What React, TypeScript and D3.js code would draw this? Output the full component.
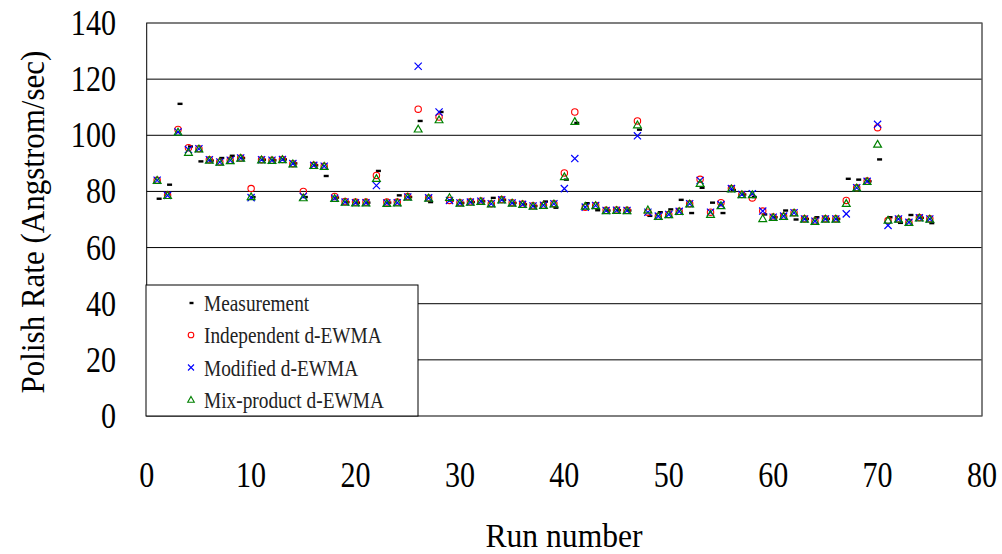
import * as d3 from 'd3'

// run numbers 1..75
const runs = d3.range(1, 76)

const measurement = [
  77.4, 82.4, 111.2, 96.0, 90.7, 91.0, 91.9, 92.7, 91.9, 78.0,
  91.3, 91.1, 91.4, 90.0, 78.0, 89.3, 85.5, 77.8, 76.2, 76.0,
  76.0, 87.3, 76.0, 78.6, 78.0, 105.1, 76.2, 108.3, 76.8, 75.9,
  76.2, 76.5, 77.7, 77.0, 75.9, 75.4, 74.8, 76.4, 74.2, 84.2,
  104.4, 75.8, 73.3, 73.2, 73.3, 73.2, 102.0, 71.3, 72.6, 73.6,
  77.0, 72.3, 81.3, 76.0, 72.3, 80.5, 78.9, 78.0, 71.8, 70.8,
  73.2, 70.0, 70.2, 70.8, 70.2, 70.2, 84.5, 84.2, 83.6, 91.4,
  70.8, 68.8, 71.6, 70.6, 68.7,
]

const independent = [
  84.0, 78.6, 102.1, 95.6, 95.2, 91.3, 90.5, 91.1, 91.9, 81.0,
  91.3, 91.1, 91.4, 89.9, 80.0, 89.3, 89.0, 78.2, 76.4, 76.2,
  76.2, 85.7, 76.2, 76.2, 78.2, 109.3, 77.7, 106.5, 76.8, 76.0,
  76.3, 76.6, 75.6, 77.1, 76.0, 75.5, 74.9, 75.1, 75.6, 86.6,
  108.3, 74.4, 75.0, 73.3, 73.4, 73.3, 105.1, 72.6, 71.2, 71.8,
  72.9, 75.6, 84.3, 72.6, 76.0, 81.0, 78.9, 77.7, 73.0, 70.9,
  71.2, 72.4, 70.3, 69.5, 70.3, 70.3, 76.8, 81.3, 83.7, 102.7,
  69.6, 70.2, 69.0, 70.7, 70.3,
]

const modified = [
  84.0, 78.6, 101.2, 94.9, 95.2, 91.3, 90.5, 91.1, 91.9, 77.8,
  91.3, 91.1, 91.4, 89.9, 78.2, 89.3, 89.0, 77.6, 76.2, 76.0,
  76.0, 82.1, 75.9, 76.0, 78.0, 124.6, 77.7, 108.3, 76.8, 75.9,
  76.2, 76.5, 75.6, 77.0, 75.9, 75.4, 74.8, 75.1, 75.6, 81.0,
  91.7, 74.4, 75.0, 73.2, 73.3, 73.2, 99.8, 72.6, 71.2, 71.8,
  72.9, 75.6, 83.9, 72.6, 75.3, 81.0, 78.9, 79.2, 73.0, 70.8,
  71.2, 72.4, 70.2, 69.4, 70.2, 70.2, 72.0, 81.3, 83.6, 103.9,
  67.9, 70.2, 69.0, 70.6, 70.2,
]

const mixProduct = [
  83.8, 78.4, 101.0, 93.8, 95.0, 91.0, 90.3, 90.8, 91.7, 78.0,
  91.1, 90.9, 91.2, 89.7, 77.6, 89.1, 88.8, 77.4, 76.0, 75.8,
  75.8, 84.5, 75.6, 75.8, 77.8, 102.1, 77.5, 105.4, 77.7, 75.7,
  76.0, 76.3, 75.4, 76.8, 75.7, 75.2, 74.6, 74.9, 75.4, 85.1,
  104.8, 74.6, 74.8, 73.0, 73.1, 73.0, 103.6, 73.3, 71.0, 71.6,
  72.7, 75.4, 82.7, 71.7, 74.8, 80.8, 78.7, 78.7, 70.2, 70.6,
  71.0, 72.2, 70.0, 69.2, 70.0, 70.0, 75.6, 81.1, 83.4, 96.7,
  69.6, 70.0, 68.8, 70.4, 70.0,
]

const yTicks = [0, 20, 40, 60, 80, 100, 120, 140]
const xTicks = [0, 10, 20, 30, 40, 50, 60, 70, 80]
const legendLabels = ['Measurement', 'Independent d-EWMA', 'Modified d-EWMA', 'Mix-product d-EWMA']

const W = 1002
const H = 554
const FONT = '"Liberation Serif", "Times New Roman", serif'
const SQUASH = 0.86

const x = d3.scaleLinear().domain([0, 80]).range([146.7, 982])
const y = d3.scaleLinear().domain([0, 140]).range([416, 23])

const triPath = 'M0,-4.2L3.9,2.6L-3.9,2.6Z'

// narrow tall serif, like the Ming-style font of the original
function Txt({ x, y, size, anchor = 'start', children, fill = '#000', sx = SQUASH }: {
  x: number; y: number; size: number; anchor?: string; children: any; fill?: string; sx?: number
}) {
  return (
    <text
      transform={`translate(${x},${y}) scale(${sx},1)`}
      textAnchor={anchor}
      fontSize={size}
      fill={fill}
    >
      {children}
    </text>
  )
}

function Dash({ cx, cy }: { cx: number; cy: number }) {
  return <rect x={cx - 0.5} y={cy - 1.2} width={5} height={2.4} fill="#000" />
}
function Circ({ cx, cy }: { cx: number; cy: number }) {
  return <circle cx={cx} cy={cy} r={3.2} fill="none" stroke="#ff0000" strokeWidth={1.1} />
}
function Cross({ cx, cy }: { cx: number; cy: number }) {
  const s = 3.6
  return (
    <path
      d={`M${cx - s},${cy - s}L${cx + s},${cy + s}M${cx - s},${cy + s}L${cx + s},${cy - s}`}
      stroke="#0000ff"
      strokeWidth={1.2}
    />
  )
}
function Tri({ cx, cy }: { cx: number; cy: number }) {
  return <path transform={`translate(${cx},${cy})`} d={triPath} fill="none" stroke="#008000" strokeWidth={1.2} />
}

export default function App() {
  const left = x(0)
  const right = x(80)
  const top = y(140)
  const bottom = y(0)

  const legendX = 146
  const legendTop = 285
  const legendW = 272
  const rowBase = [311, 343, 375.5, 408]

  return (
    <svg
      width={W}
      height={H}
      style={{ position: 'absolute', left: 0, top: 0, background: '#fff' }}
      fontFamily={FONT}
    >
      <rect x={0} y={0} width={W} height={H} fill="#fff" />

      {/* gridlines */}
      {yTicks.filter(t => t > 0 && t < 140).map(t => (
        <line key={t} x1={left} x2={right} y1={y(t)} y2={y(t)} stroke="#000" strokeWidth={1} />
      ))}
      {/* plot frame */}
      <rect x={left} y={top} width={right - left} height={bottom - top} fill="none" stroke="#000" strokeWidth={1} />
      <line x1={right} x2={right} y1={top} y2={bottom} stroke="#808080" strokeWidth={1} />

      {/* y tick labels */}
      {yTicks.map(t => (
        <Txt key={t} x={116} y={y(t) + 12} anchor="end" size={35}>
          {t}
        </Txt>
      ))}
      {/* x tick labels */}
      {xTicks.map(t => (
        <Txt key={t} x={x(t)} y={487} anchor="middle" size={35}>
          {t}
        </Txt>
      ))}

      {/* axis titles */}
      <text
        transform={`translate(44,222) rotate(-90) scale(0.94,1.05)`}
        textAnchor="middle"
        fontSize={33}
        fill="#000"
      >
        Polish Rate (Angstrom/sec)
      </text>
      <Txt x={564} y={547} anchor="middle" size={34} sx={0.93}>
        Run number
      </Txt>

      {/* series */}
      <g>
        {runs.map((r, i) => (
          <Dash key={r} cx={x(r)} cy={y(measurement[i])} />
        ))}
      </g>
      <g>
        {runs.map((r, i) => (
          <Circ key={r} cx={x(r)} cy={y(independent[i])} />
        ))}
      </g>
      <g>
        {runs.map((r, i) => (
          <Cross key={r} cx={x(r)} cy={y(modified[i])} />
        ))}
      </g>
      <g>
        {runs.map((r, i) => (
          <Tri key={r} cx={x(r)} cy={y(mixProduct[i])} />
        ))}
      </g>

      {/* legend */}
      <rect x={legendX} y={legendTop} width={legendW} height={bottom - legendTop} fill="#fff" stroke="#000" strokeWidth={1} />
      {legendLabels.map((label, i) => {
        const my = rowBase[i] - 8
        const mx = 191
        return (
          <g key={label}>
            {i === 0 && <rect x={mx - 1.5} y={my - 1.2} width={4} height={2.4} fill="#000" />}
            {i === 1 && <circle cx={mx} cy={my} r={2.8} fill="none" stroke="#ff0000" strokeWidth={1.1} />}
            {i === 2 && (
              <path
                d={`M${mx - 3},${my - 3}L${mx + 3},${my + 3}M${mx - 3},${my + 3}L${mx + 3},${my - 3}`}
                stroke="#0000ff"
                strokeWidth={1.1}
              />
            )}
            {i === 3 && (
              <path transform={`translate(${mx},${my})`} d="M0,-3.6L3.3,2.2L-3.3,2.2Z" fill="none" stroke="#008000" strokeWidth={1.1} />
            )}
            <Txt x={204} y={rowBase[i]} size={22.5} fill="#222">
              {label}
            </Txt>
          </g>
        )
      })}
    </svg>
  )
}
